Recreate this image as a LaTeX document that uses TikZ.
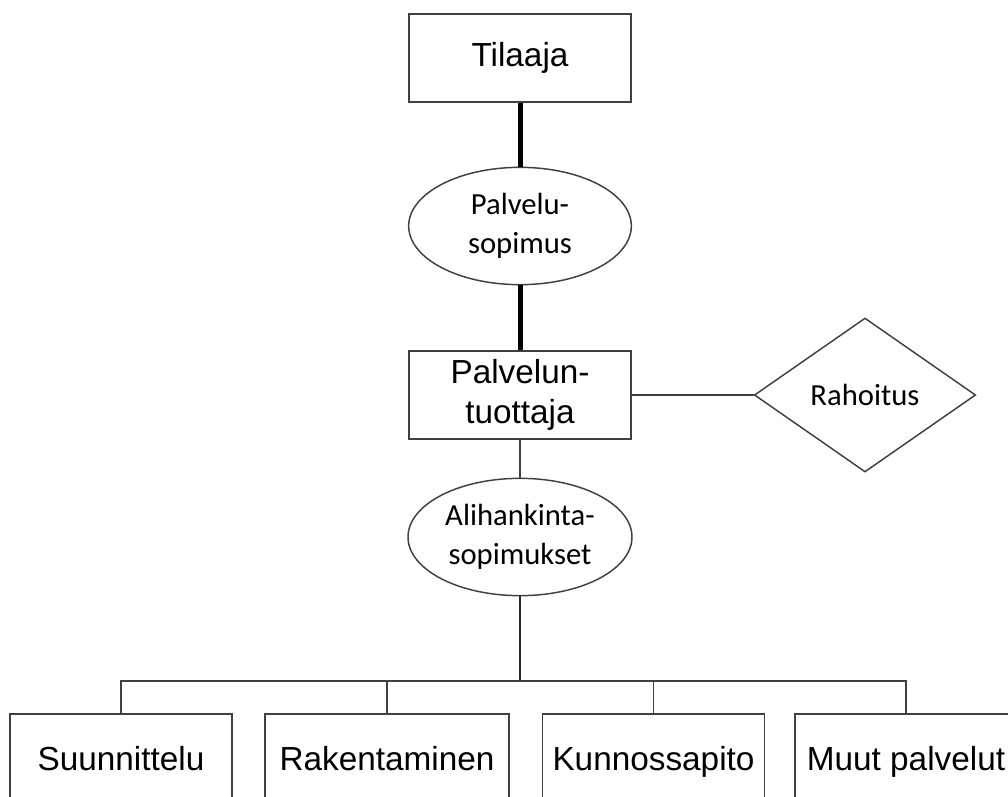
\documentclass[tikz,border=0pt]{standalone}
\usepackage{fontspec}
\setmainfont{Liberation Sans}
\newfontfamily\calibri{Carlito}
\usetikzlibrary{shapes.geometric}

\begin{document}
\begin{tikzpicture}[x=0.75pt,y=-0.75pt,
    laatikko/.style={draw=viiva,line width=1.1pt,minimum width=166.5pt,minimum height=66pt,
      inner sep=0pt,align=center,font=\fontsize{25}{30}\selectfont},
    palvelu/.style={laatikko,text height=18pt,text depth=0pt},
    sopimus/.style={ellipse,draw=viiva,line width=1.1pt,minimum width=167pt,minimum height=88pt,
      inner sep=0pt,align=center,font=\calibri\fontsize{23}{29}\selectfont},
    ehto/.style={diamond,draw=viiva,line width=1.1pt,minimum width=166pt,minimum height=115.5pt,
      inner sep=0pt,font=\calibri\fontsize{23}{29}\selectfont},
    paksu/.style={line width=3.75pt,black},
    keski/.style={line width=1.9pt,black!85},
    ohut/.style={line width=1.1pt,viiva}]
  \colorlet{viiva}{black!75}

  \clip (0,0) rectangle (1008,797);

  \node[laatikko] (tilaaja) at (520,58) {Tilaaja};
  \node[sopimus] (palvsop) at (520,226) {Palvelu-\\sopimus};
  \node[laatikko] (tuottaja) at (520,395) {Palvelun-\\tuottaja};
  \node[ehto] (rahoitus) at (865,395) {Rahoitus};
  \node[sopimus,minimum width=168pt] (alisop) at (520,537) {Alihankinta-\\sopimukset};

  \node[palvelu] (suunn) at (121,758) {Suunnittelu};
  \node[palvelu,minimum width=183pt] (raken) at (387,758) {Rakentaminen};
  \node[palvelu] (kunnos) at (653.5,758) {Kunnossapito};
  \node[palvelu] (muut) at (906,758) {Muut palvelut};

  \coordinate (jako) at (520,681);

  \draw[paksu] (tilaaja) -- (palvsop);
  \draw[paksu] (palvsop) -- (tuottaja);
  \draw[ohut] (tuottaja) -- (rahoitus);
  \draw[ohut] (tuottaja) -- (alisop);
  \draw[keski] (alisop) -- (jako);
  \foreach \kohde in {suunn,raken,kunnos,muut}
    \draw[ohut] (jako) -| (\kohde.north);
\end{tikzpicture}
\end{document}
